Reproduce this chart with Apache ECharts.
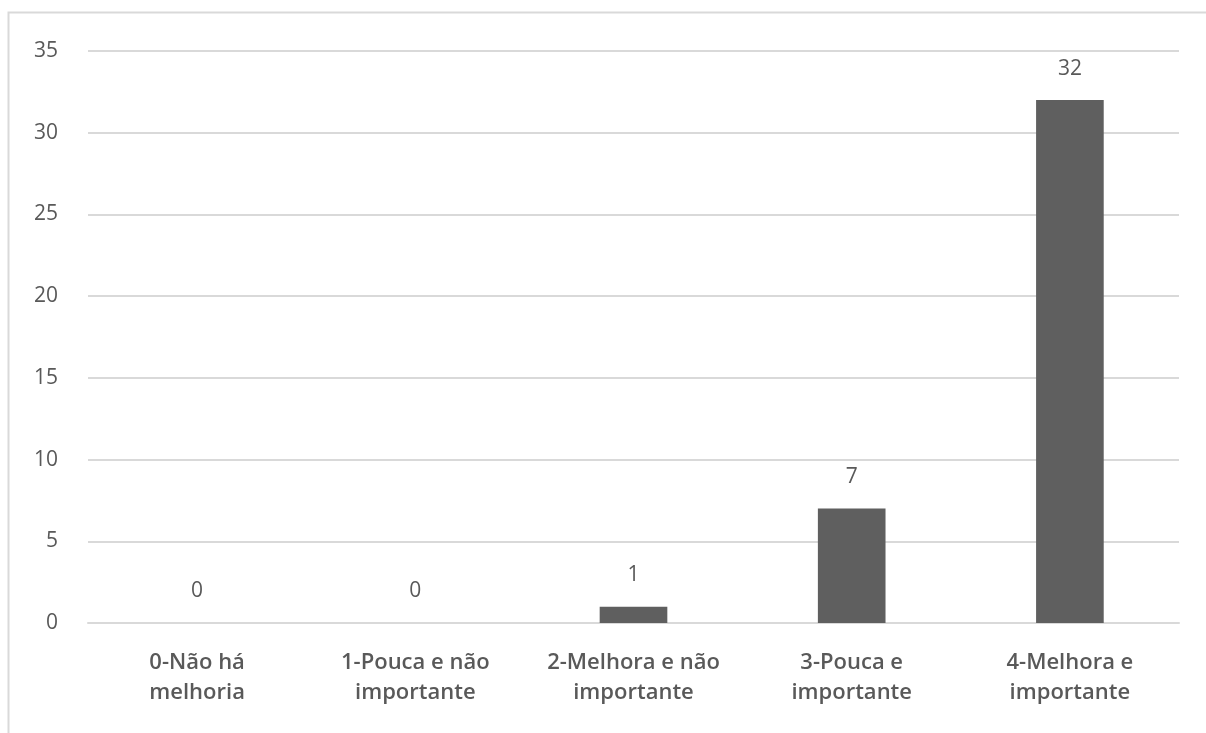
<!DOCTYPE html>
<html>
<head>
<meta charset="utf-8">
<script src="https://cdn.jsdelivr.net/npm/echarts@6/dist/echarts.min.js"></script>
<style>
  html, body { margin: 0; padding: 0; background: #fff; }
  #chart { width: 1206px; height: 733px; }
</style>
</head>
<body>
<div id="chart"></div>
<script>
// categorias e valores
const categories = [
  '0-Não há\nmelhoria',
  '1-Pouca e não\nimportante',
  '2-Melhora e não\nimportante',
  '3-Pouca e\nimportante',
  '4-Melhora e\nimportante'
]
const values = [0, 0, 1, 7, 32]
const yTicks = [0, 5, 10, 15, 20, 25, 30, 35]

const textColor = '#595959'
const fontFamily = '"Open Sans", "Noto Sans", sans-serif'

const chart = echarts.init(document.getElementById('chart'))

chart.setOption({
  animation: false,
  graphic: [{
    type: 'rect',
    shape: { x: 8.5, y: 12.5, width: 1220, height: 760 },
    style: { fill: 'none', stroke: '#d9d9d9', lineWidth: 2 },
    silent: true
  }],
  grid: { left: 88, right: 27, top: 51, bottom: 110 },
  xAxis: {
    type: 'category',
    data: categories,
    axisLine: { show: true, lineStyle: { color: '#d9d9d9', width: 2 } },
    axisTick: { show: false },
    axisLabel: {
      color: textColor,
      fontSize: 22,
      fontWeight: 600,
      fontFamily: fontFamily,
      lineHeight: 30,
      margin: 25,
      interval: 0
    }
  },
  yAxis: {
    type: 'value',
    min: yTicks[0],
    max: yTicks[yTicks.length - 1],
    interval: 5,
    axisLine: { show: false },
    axisTick: { show: false },
    axisLabel: {
      color: textColor,
      fontSize: 21,
      fontFamily: fontFamily,
      margin: 30
    },
    splitLine: { lineStyle: { color: '#d9d9d9', width: 2 } }
  },
  series: [{
    type: 'bar',
    data: values,
    barWidth: '31%',
    itemStyle: { color: '#5f5f5f' },
    label: {
      show: true,
      position: 'top',
      distance: 21,
      color: textColor,
      fontSize: 21,
      fontFamily: fontFamily
    }
  }]
})
</script>
</body>
</html>
